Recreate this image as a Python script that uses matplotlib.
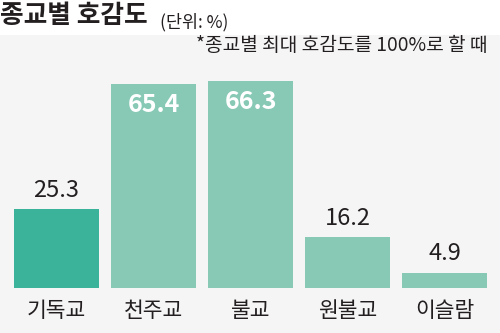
"""Bar chart: favourability by religion."""

import matplotlib
matplotlib.use("Agg")
import matplotlib.pyplot as plt
from matplotlib.patches import Rectangle

plt.rcParams['font.family'] = ['Noto Sans CJK KR', 'DejaVu Sans']

categories = ['기독교', '천주교', '불교', '원불교', '이슬람']
values = [25.3, 65.4, 66.3, 16.2, 4.9]
value_labels = ['25.3', '65.4', '66.3', '16.2', '4.9']
inside = [False, True, True, False, False]

title = '종교별 호감도'
unit = '(단위: %)'
note = '*종교별 최대 호감도를 100%로 할 때'

DARK = '#3bb39a'
LIGHT = '#88c9b6'
BG = '#f5f5f5'
TXT = '#231f20'

fig = plt.figure(figsize=(5, 3.33), dpi=100)
fig.patch.set_facecolor('white')
# gray panel below the title
fig.add_artist(Rectangle((0, 0), 1, 0.895, transform=fig.transFigure,
                         facecolor=BG, edgecolor='none', zorder=-10))

ax = fig.add_axes([0.016, 0.135, 0.97, 0.75])
ax.set_zorder(1)
ax.set_facecolor('none')
colors = [DARK] + [LIGHT] * (len(values) - 1)
x = range(len(categories))
bars = ax.bar(x, values, width=0.885, color=colors)
ax.set_xlim(-0.5, 4.5)
ax.set_ylim(0, 80)
ax.axis('off')

for i, (b, lab) in enumerate(zip(bars, value_labels)):
    cx = b.get_x() + b.get_width() / 2
    if inside[i]:
        ax.annotate(lab, (cx, b.get_height()), xytext=(0, -21),
                    textcoords='offset pixels', ha='center', va='center',
                    fontsize=18, fontweight='bold', color='white')
    else:
        ax.annotate(lab, (cx, b.get_height()), xytext=(0, 19),
                    textcoords='offset pixels', ha='center', va='center',
                    fontsize=17, color=TXT)
    ax.annotate(categories[i], (cx, 0), xytext=(0, -23),
                textcoords='offset pixels', ha='center', va='center',
                fontsize=15.5, color=TXT, annotation_clip=False)

fig.text(0.0, 0.995, title, ha='left', va='top', fontsize=18.5,
         fontweight='heavy', color=TXT)
fig.text(0.32, 0.96, unit, ha='left', va='top', fontsize=12.5, color=TXT)
fig.text(0.975, 0.862, note, ha='right', va='center', fontsize=13.8, color=TXT)

fig.savefig('out.png', dpi=100)
plt.close(fig)
